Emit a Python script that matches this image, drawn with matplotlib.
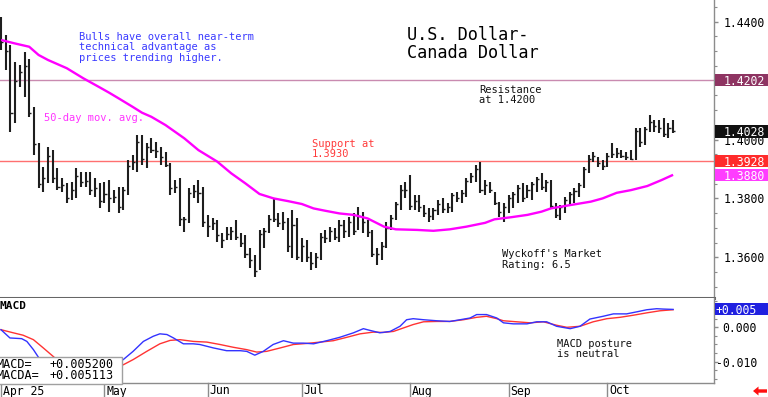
import matplotlib
matplotlib.use("Agg")
import matplotlib.pyplot as plt
import matplotlib.transforms as mtransforms
from matplotlib.patches import Rectangle, Polygon
from matplotlib.ticker import FixedLocator, MultipleLocator, FormatStrFormatter

plt.rcParams['font.family'] = ['DejaVu Sans Mono', 'DejaVu Sans']

# ---------------- data ----------------
highs = [1.4417, 1.4355, 1.4321, 1.4264, 1.4253, 1.4298, 1.4275, 1.4111, 1.3987, 1.3908,
         1.3976, 1.3964, 1.3902, 1.3868, 1.3851, 1.3857, 1.3902, 1.3891, 1.3891, 1.3891,
         1.3868, 1.3851, 1.3857, 1.3862, 1.3828, 1.3840, 1.3840, 1.3930, 1.3947, 1.4015,
         1.4015, 1.3987, 1.4004, 1.3993, 1.3976, 1.3959, 1.3919, 1.3862, 1.3868, 1.3738,
         1.3834, 1.3845, 1.3862, 1.3840, 1.3743, 1.3732, 1.3727, 1.3681, 1.3704, 1.3704,
         1.3727, 1.3681, 1.3676, 1.3630, 1.3608, 1.3693, 1.3698, 1.3743, 1.3800, 1.3749,
         1.3755, 1.3732, 1.3760, 1.3732, 1.3664, 1.3659, 1.3619, 1.3613, 1.3681, 1.3693,
         1.3704, 1.3698, 1.3727, 1.3727, 1.3738, 1.3749, 1.3772, 1.3755, 1.3727, 1.3693,
         1.3630, 1.3653, 1.3721, 1.3743, 1.3789, 1.3845, 1.3857, 1.3879, 1.3811, 1.3811,
         1.3777, 1.3766, 1.3766, 1.3794, 1.3800, 1.3783, 1.3817, 1.3823, 1.3828, 1.3868,
         1.3885, 1.3913, 1.3925, 1.3862, 1.3857, 1.3823, 1.3789, 1.3783, 1.3811, 1.3823,
         1.3845, 1.3851, 1.3845, 1.3857, 1.3874, 1.3885, 1.3862, 1.3862, 1.3783, 1.3777,
         1.3806, 1.3823, 1.3834, 1.3851, 1.3908, 1.3947, 1.3959, 1.3942, 1.3930, 1.3953,
         1.3987, 1.3970, 1.3964, 1.3959, 1.3964, 1.4038, 1.4038, 1.4043, 1.4083, 1.4066,
         1.4066, 1.4072, 1.4055, 1.4066]
lows = [1.4304, 1.4236, 1.4026, 1.4055, 1.4179, 1.4145, 1.4077, 1.3947, 1.3834, 1.3823,
        1.3851, 1.3851, 1.3828, 1.3823, 1.3783, 1.3794, 1.3800, 1.3840, 1.3840, 1.3811,
        1.3806, 1.3766, 1.3783, 1.3755, 1.3783, 1.3749, 1.3760, 1.3812, 1.3896, 1.3891,
        1.3913, 1.3902, 1.3953, 1.3936, 1.3913, 1.3908, 1.3811, 1.3817, 1.3706, 1.3685,
        1.3715, 1.3800, 1.3783, 1.3704, 1.3670, 1.3693, 1.3653, 1.3630, 1.3659, 1.3659,
        1.3659, 1.3636, 1.3596, 1.3562, 1.3534, 1.3557, 1.3630, 1.3681, 1.3721, 1.3704,
        1.3693, 1.3619, 1.3596, 1.3591, 1.3585, 1.3585, 1.3557, 1.3562, 1.3591, 1.3647,
        1.3653, 1.3659, 1.3653, 1.3664, 1.3670, 1.3676, 1.3693, 1.3681, 1.3670, 1.3602,
        1.3574, 1.3591, 1.3630, 1.3693, 1.3727, 1.3760, 1.3800, 1.3760, 1.3760, 1.3755,
        1.3738, 1.3721, 1.3727, 1.3743, 1.3749, 1.3749, 1.3755, 1.3789, 1.3783, 1.3806,
        1.3851, 1.3857, 1.3817, 1.3811, 1.3817, 1.3777, 1.3738, 1.3721, 1.3749, 1.3766,
        1.3783, 1.3789, 1.3800, 1.3794, 1.3823, 1.3828, 1.3823, 1.3766, 1.3732, 1.3727,
        1.3749, 1.3777, 1.3783, 1.3806, 1.3834, 1.3885, 1.3925, 1.3908, 1.3896, 1.3908,
        1.3936, 1.3936, 1.3936, 1.3930, 1.3930, 1.3930, 1.3976, 1.3981, 1.4026, 1.4026,
        1.4021, 1.4009, 1.4004, 1.4021]
closes = [1.4330, 1.4300, 1.4090, 1.4200, 1.4230, 1.4250, 1.4090, 1.3985, 1.3850, 1.3870,
          1.3945, 1.3870, 1.3840, 1.3845, 1.3800, 1.3830, 1.3875, 1.3855, 1.3860, 1.3830,
          1.3835, 1.3790, 1.3815, 1.3800, 1.3805, 1.3770, 1.3830, 1.3910, 1.3925, 1.3990,
          1.3935, 1.3975, 1.3965, 1.3960, 1.3940, 1.3915, 1.3835, 1.3840, 1.3730, 1.3730,
          1.3820, 1.3825, 1.3820, 1.3720, 1.3705, 1.3715, 1.3675, 1.3660, 1.3680, 1.3690,
          1.3670, 1.3650, 1.3610, 1.3590, 1.3555, 1.3680, 1.3690, 1.3730, 1.3730, 1.3715,
          1.3720, 1.3640, 1.3710, 1.3600, 1.3640, 1.3600, 1.3580, 1.3600, 1.3670, 1.3665,
          1.3690, 1.3670, 1.3710, 1.3690, 1.3720, 1.3690, 1.3740, 1.3720, 1.3685, 1.3610,
          1.3610, 1.3640, 1.3700, 1.3735, 1.3780, 1.3830, 1.3830, 1.3775, 1.3790, 1.3770,
          1.3750, 1.3740, 1.3760, 1.3780, 1.3765, 1.3770, 1.3810, 1.3800, 1.3820, 1.3860,
          1.3875, 1.3900, 1.3830, 1.3845, 1.3830, 1.3785, 1.3755, 1.3770, 1.3800, 1.3815,
          1.3835, 1.3800, 1.3830, 1.3850, 1.3865, 1.3840, 1.3855, 1.3775, 1.3745, 1.3770,
          1.3795, 1.3815, 1.3825, 1.3845, 1.3900, 1.3935, 1.3945, 1.3920, 1.3910, 1.3945,
          1.3950, 1.3955, 1.3945, 1.3940, 1.3935, 1.4030, 1.3990, 1.4035, 1.4060, 1.4045,
          1.4040, 1.4020, 1.4040, 1.4028]

ma_idx = [0, 3, 6, 8, 10, 14, 17.5, 21, 23, 25, 28, 30, 32, 35, 39, 42, 46, 49, 52, 55,
          58, 61, 64, 66.5, 69, 72, 75, 78, 81.5, 84, 88.5, 92, 95.5, 99, 103, 105, 108.5,
          112, 115, 117, 121, 125.5, 128, 131, 134, 137.5, 140.5, 143]
ma_vals = [1.4338, 1.4326, 1.4315, 1.4287, 1.4270, 1.4242, 1.4208, 1.4177, 1.4159, 1.4140,
           1.4111, 1.4091, 1.4077, 1.4049, 1.4004, 1.3964, 1.3925, 1.3885, 1.3851, 1.3815,
           1.3800, 1.3791, 1.3781, 1.3766, 1.3758, 1.3749, 1.3744, 1.3732, 1.3704, 1.3695,
           1.3693, 1.3690, 1.3695, 1.3704, 1.3717, 1.3729, 1.3736, 1.3744, 1.3755, 1.3766,
           1.3777, 1.3789, 1.3800, 1.3819, 1.3828, 1.3842, 1.3862, 1.3880]

macd_idx = [0, 1.9, 4.4, 5.5, 6.9, 8.3, 12, 16, 20, 23, 26.0, 28.1, 30.3, 32.4, 33.8, 35.3,
            36.7, 38.8, 40.9, 42.3, 45.2, 48.0, 50.9, 52.3, 54.0, 55.8, 57.9, 60.1, 62.2,
            64.3, 66.5, 69.3, 72.1, 75.0, 77.1, 78.5, 80.6, 82.8, 84.9, 86.3, 87.7, 89.9,
            92.7, 95.5, 97.7, 99.8, 101.2, 103.3, 105.5, 106.9, 109.0, 111.9, 114.0, 116.1,
            118.2, 121.1, 123.2, 125.3, 128.1, 130.3, 133.1, 135.3, 137.4, 139.5, 140.9, 143]
macd_vals = [-0.0007, -0.0031, -0.0033, -0.0041, -0.0065, -0.0094, -0.0125, -0.0140, -0.0132,
             -0.0112, -0.0094, -0.0070, -0.0041, -0.0026, -0.0019, -0.0021, -0.0031, -0.0048,
             -0.0048, -0.0050, -0.0060, -0.0068, -0.0068, -0.0070, -0.0081, -0.0070, -0.0050,
             -0.0039, -0.0046, -0.0046, -0.0048, -0.0039, -0.0029, -0.0016, -0.0004, -0.0009,
             -0.0016, -0.0012, 0.0003, 0.0022, 0.0025, 0.0022, 0.0019, 0.0017, 0.0022, 0.0027,
             0.0037, 0.0037, 0.0027, 0.0013, 0.0010, 0.0010, 0.0016, 0.0016, 0.0003, -0.0004,
             0.0003, 0.0024, 0.0032, 0.0039, 0.0039, 0.0045, 0.0051, 0.0054, 0.0053, 0.0052]

sig_idx = [0, 2.6, 4.7, 6.9, 9.0, 11.9, 15, 20, 23, 26.0, 28.1, 31.0, 33.8, 36.0, 38.1, 40.9,
           43.8, 46.6, 49.4, 52.3, 54.4, 56.5, 59.4, 62.2, 65.0, 67.9, 70.7, 73.6, 76.4, 79.2,
           81.3, 83.5, 85.6, 87.7, 89.9, 92.7, 95.5, 98.4, 101.2, 103.3, 105.5, 106.9, 109.7,
           112.6, 115.4, 118.2, 120.4, 123.2, 126.0, 128.9, 131.7, 134.5, 137.4, 140.2, 143]
sig_vals = [-0.0007, -0.0016, -0.0023, -0.0036, -0.0060, -0.0094, -0.0113, -0.0122, -0.0118,
            -0.0109, -0.0094, -0.0070, -0.0048, -0.0038, -0.0036, -0.0041, -0.0043, -0.0050,
            -0.0058, -0.0065, -0.0072, -0.0070, -0.0060, -0.0050, -0.0047, -0.0043, -0.0039,
            -0.0029, -0.0019, -0.0014, -0.0015, -0.0012, -0.0002, 0.0008, 0.0016, 0.0017,
            0.0017, 0.0022, 0.0029, 0.0032, 0.0025, 0.0019, 0.0016, 0.0013, 0.0016, 0.0006,
            0.0000, 0.0003, 0.0016, 0.0025, 0.0029, 0.0035, 0.0042, 0.0048, 0.0051]

month_labels = ['Apr 25', 'May', 'Jun', 'Jul', 'Aug', 'Sep', 'Oct']
month_pos = [0, 22, 44, 64, 87, 108, 129]

resistance = 1.4202
support = 1.3928
last_close = 1.4028
ma_last = 1.3880
macd_last = 0.005200
macda_last = 0.005113

# ---------------- layout ----------------
W, H = 768, 397
fig = plt.figure(figsize=(W / 100, H / 100), dpi=100, facecolor='white')


def fx(px):
    return px / W


def fy(py):
    return 1 - py / H


ax = fig.add_axes([0, fy(297.5), fx(714), fy(0) - fy(297.5)])
ax2 = fig.add_axes([0, fy(383), fx(714), fy(297.5) - fy(383)])

xmin, xmax = -1 / 4.7, 713 / 4.7
for a in (ax, ax2):
    a.set_xlim(xmin, xmax)
    a.set_xticks([])
    a.spines['left'].set_visible(False)
    a.spines['top'].set_visible(False)
    a.spines['right'].set_color('#8c8c8c')
    a.spines['right'].set_linewidth(1.0)
    a.yaxis.set_ticks_position('right')

ax.spines['bottom'].set_color('#666666')
ax.spines['bottom'].set_linewidth(2.2)
ax2.spines['bottom'].set_color('#8c8c8c')
ax2.spines['bottom'].set_linewidth(1.0)

ax.set_ylim(1.34635, 1.44737)
ax2.set_ylim(-0.01619, 0.00866)

# main panel ticks
ax.yaxis.set_major_locator(FixedLocator([1.36, 1.38, 1.40, 1.42, 1.44]))
ax.yaxis.set_major_formatter(FormatStrFormatter('%.4f'))
ax.yaxis.set_minor_locator(MultipleLocator(0.005))
ax.tick_params(axis='y', which='major', direction='out', length=3, width=1,
               color='#8c8c8c', labelsize=8.3, pad=4.2, labelcolor='black')
ax.tick_params(axis='y', which='minor', direction='out', length=2, width=0.8,
               color='#8c8c8c')

ax2.yaxis.set_major_locator(FixedLocator([-0.010, 0.0]))
ax2.yaxis.set_major_formatter(FormatStrFormatter('%.3f'))
ax2.yaxis.set_minor_locator(MultipleLocator(0.0025))
ax2.tick_params(axis='y', which='major', direction='out', length=3, width=1,
                color='#8c8c8c', labelsize=8.3, pad=28, labelcolor='black')
ax2.tick_params(axis='y', which='minor', direction='out', length=2, width=0.8,
                color='#8c8c8c')
plt.setp(ax2.get_yticklabels(), ha='right')

# ---------------- price bars ----------------
idx = list(range(len(highs)))
ax.axhline(resistance, color='#c98bb0', lw=1.0, zorder=1)
ax.axhline(support, color='#ff7070', lw=1.0, zorder=1)
ax.vlines(idx, lows, highs, color='#1e1e1e', lw=1.5, zorder=3)
ax.hlines(closes, [i for i in idx], [i + 0.45 for i in idx], color='#1e1e1e', lw=1.0, zorder=3)
ax.plot(ma_idx, ma_vals, color='#ff00ff', lw=1.7, zorder=4, solid_capstyle='butt')

# ---------------- MACD ----------------
ax2.plot(sig_idx, sig_vals, color='#ff3333', lw=1.0, zorder=2)
ax2.plot(macd_idx, macd_vals, color='#3333ff', lw=1.0, zorder=3)

# ---------------- right-side highlighted value boxes ----------------
def value_box(a, value, color, text, height_px, text_x_px):
    tr = mtransforms.blended_transform_factory(fig.transFigure, a.transData)
    y0, y1 = a.get_ylim()
    per_px = (y1 - y0) / (a.get_position().height * H)
    h = height_px * per_px
    rect = Rectangle((fx(714.5), value - h / 2), 1 - fx(714.5), h, transform=tr,
                     facecolor=color, edgecolor='none', zorder=5)
    fig.add_artist(rect)
    fig.text(fx(text_x_px), value, text, transform=tr, color='white', fontsize=8.3,
             ha='left', va='center_baseline', zorder=6)


value_box(ax, resistance, '#8e3462', '%.4f' % resistance, 12, 724)
value_box(ax, last_close, '#111111', '%.4f' % last_close, 12.5, 724)
value_box(ax, support, '#ff2b2b', '%.4f' % support, 12, 724)
value_box(ax, ma_last, '#ff3cff', '%.4f' % ma_last, 12, 724)
value_box(ax2, macd_last, '#2020e0', '+%.3f' % macd_last, 12, 716)

# ---------------- annotations ----------------
def lines_at(x_px, baselines, lines, color, size, **kw):
    for b, s in zip(baselines, lines):
        fig.text(fx(x_px), fy(b), s, color=color, fontsize=size, ha='left',
                 va='baseline', zorder=7, **kw)


lines_at(79, [39.5, 50.2, 60.9], ['Bulls have overall near-term',
                                  'technical advantage as',
                                  'prices trending higher.'], '#3a3aff', 7.5)
lines_at(407, [40, 57.5], ['U.S. Dollar-', 'Canada Dollar'], 'black', 12.2)
lines_at(479, [92.7, 102.9], ['Resistance', 'at 1.4200'], '#111111', 7.45)
lines_at(44, [121], ['50-day mov. avg.'], '#ff33ff', 7.45)
lines_at(312, [146.7, 157.4], ['Support at', '1.3930'], '#ff3a3a', 7.45)
lines_at(502, [256.8, 267.8], ["Wyckoff's Market", 'Rating: 6.5'], '#111111', 7.45)
lines_at(557, [346.8, 357], ['MACD posture', 'is neutral'], '#111111', 7.45)
lines_at(-1, [309], ['MACD'], 'black', 8.0, fontweight='bold')

# MACD value box (bottom-left)
box = Rectangle((fx(-2), fy(383.5)), fx(124.3) , fy(356.7) - fy(383.5), transform=fig.transFigure,
                facecolor='white', edgecolor='#a0a0a0', lw=1.0, zorder=5)
fig.add_artist(box)
lines_at(-3.8, [368.5, 379.2], ['MACD=', 'MACDA='], 'black', 8.5)
lines_at(49, [368.5, 379.2], ['%+.6f' % macd_last, '%+.6f' % macda_last], 'black', 8.5)

# month axis
trm = mtransforms.blended_transform_factory(ax2.transData, fig.transFigure)
for p, lab in zip(month_pos, month_labels):
    ax2.plot([p, p], [fy(383), fy(397)], transform=trm, color='#8c8c8c', lw=1.0,
             clip_on=False, zorder=1)
    ax2.text(p + 0.4, fy(394.5), lab, transform=trm, fontsize=8.3, ha='left',
             va='baseline', color='black', clip_on=False)

# little red arrow bottom-right
pts = [(753, 391), (758.5, 386.5), (758.5, 389.3), (767, 389.3), (767, 392.7),
       (758.5, 392.7), (758.5, 395.5)]
fig.add_artist(Polygon([(fx(x), fy(y)) for x, y in pts], closed=True,
                       transform=fig.transFigure, facecolor='#ff1010', edgecolor='none'))

fig.savefig('out.png', dpi=100, facecolor='white')
